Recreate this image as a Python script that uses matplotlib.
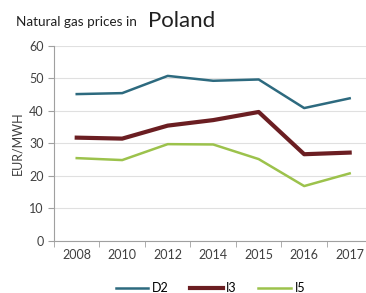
import numpy as np
import matplotlib.pyplot as plt

# data
years = ["2008", "2010", "2012", "2014", "2015", "2016", "2017"]
d2 = [45.2, 45.5, 50.8, 49.3, 49.7, 40.9, 43.9]
i3 = [31.8, 31.5, 35.5, 37.2, 39.7, 26.7, 27.2]
i5 = [25.5, 24.9, 29.8, 29.7, 25.2, 16.9, 20.8]

plt.rcParams['font.family'] = ['Lato', 'DejaVu Sans']

fig = plt.figure(figsize=(3.66, 2.93), dpi=100)
ax = fig.add_axes([0.1475, 0.1775, 0.87, 0.6655])

x = np.arange(len(years))
ax.plot(x, d2, color="#2d6a7f", linewidth=1.8, label="D2")
ax.plot(x, i3, color="#6b1e22", linewidth=3.0, label="I3")
ax.plot(x, i5, color="#9cc24c", linewidth=1.8, label="I5")

ax.set_xlim(-0.5, len(years) - 0.5)
ax.set_ylim(0, 60)
ax.set_yticks(range(0, 61, 10))
ax.set_xticks(x)
ax.set_xticklabels(years)
ax.set_xticks(np.arange(-0.5, len(years), 1), minor=True)
ax.tick_params(axis="x", which="major", length=0, labelsize=9, colors="#404040", pad=6)
ax.tick_params(axis="x", which="minor", length=4, color="#a0a0a0")
ax.tick_params(axis="y", length=4, color="#a0a0a0", labelsize=9, labelcolor="#404040")

ax.grid(axis="y", color="#e0e0e0", linewidth=0.8)
ax.set_axisbelow(True)
for s in ["top", "right"]:
    ax.spines[s].set_visible(False)
for s in ["left", "bottom"]:
    ax.spines[s].set_color("#a0a0a0")

ax.set_ylabel("EUR/MWH", fontsize=9, color="#404040", labelpad=4)

fig.text(0.044, 0.925, "Natural gas prices in", fontsize=9.7, color="#202020", va="center")
fig.text(0.404, 0.928, "Poland", fontsize=16, color="#202020", va="center")

fig.legend(loc="center", bbox_to_anchor=(0.575, 0.017), ncol=3, frameon=False,
           fontsize=9, handlelength=2.6, columnspacing=1.7, handletextpad=0.3)

fig.savefig("out.png", dpi=100)
